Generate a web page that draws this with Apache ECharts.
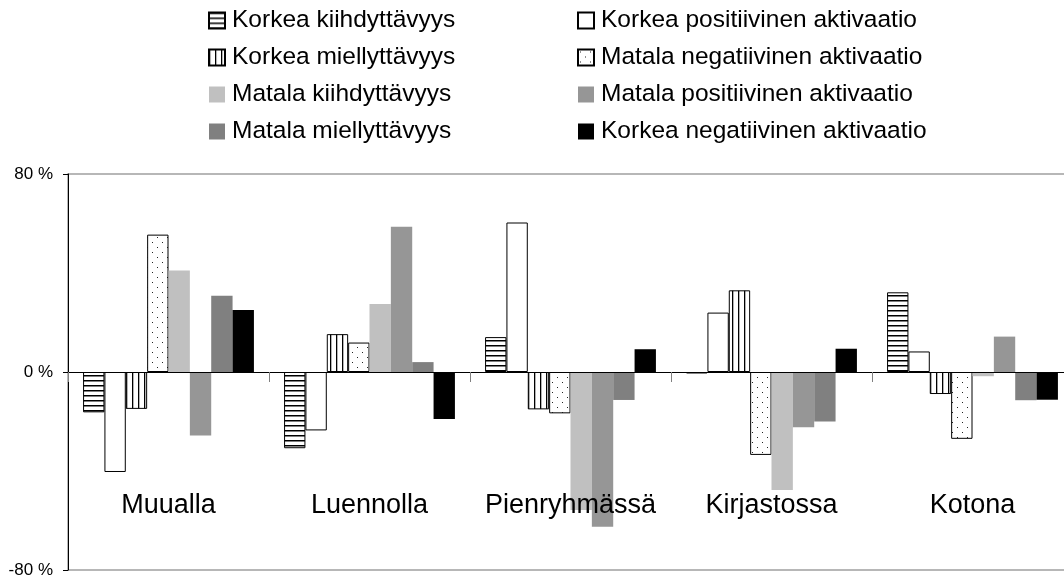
<!DOCTYPE html>
<html>
<head>
<meta charset="utf-8">
<script src="https://cdn.jsdelivr.net/npm/echarts@6/dist/echarts.min.js"></script>
<style>
  html, body { margin: 0; padding: 0; background: #fff; }
  #chart { width: 1064px; height: 579px; }
</style>
</head>
<body>
<div id="chart"></div>
<script>
// categories
const categories = ['Muualla', 'Luennolla', 'Pienryhmässä', 'Kirjastossa', 'Kotona'];

// series values (%)
const korkeaKiihdyttavyys = [-16.3, -30.8, 14.1, -0.6, 32.2];
const korkeaPositiivinen = [-40.4, -23.6, 60.4, 24.0, 8.3];
const korkeaMiellyttavyys = [-14.9, 15.3, -15.1, 33.0, -8.9];
const matalaNegatiivinen = [55.5, 11.9, -16.7, -33.5, -27.0];
const matalaKiihdyttavyys = [41.0, 27.5, -55.8, -47.7, -1.7];
const matalaPositiivinen = [-25.7, 58.7, -62.5, -22.3, 14.3];
const matalaMiellyttavyys = [30.8, 4.0, -11.3, -20.0, -11.4];
const korkeaNegatiivinen = [25.1, -19.0, 9.2, 9.4, -11.2];

// y axis ticks
const yTicks = [-80, 0, 80];

const FONT = "'Liberation Sans', Arial, sans-serif";

function makeTile(w, h, draw) {
    const c = document.createElement('canvas');
    c.width = w;
    c.height = h;
    const ctx = c.getContext('2d');
    ctx.fillStyle = '#fff';
    ctx.fillRect(0, 0, w, h);
    draw(ctx);
    return { image: c, repeat: 'repeat' };
}

const hStripes = makeTile(6, 5, ctx => {
    ctx.fillStyle = '#000';
    ctx.fillRect(0, 0, 6, 1.5);
});
const vStripes = makeTile(6, 6, ctx => {
    ctx.fillStyle = '#000';
    ctx.fillRect(0, 0, 1.3, 6);
});
const dots = makeTile(10, 10, ctx => {
    ctx.fillStyle = '#222';
    ctx.fillRect(2, 2, 1, 1);
    ctx.fillRect(7, 7, 1, 1);
});

function bar(name, data, color, border) {
    return {
        name: name,
        type: 'bar',
        data: data,
        barGap: '0%',
        barCategoryGap: '15%',
        itemStyle: {
            color: color,
            borderColor: border ? '#000' : color,
            borderWidth: border ? 1 : 0
        }
    };
}

const chart = echarts.init(document.getElementById('chart'));

const legendText = { color: '#000', fontSize: 24.5, fontFamily: FONT, lineHeight: 24, padding: [0, 0, 0, 2] };

const option = {
    animation: false,
    backgroundColor: '#fff',
    legend: [
        {
            orient: 'vertical',
            left: 203,
            top: 3,
            itemWidth: 16,
            itemHeight: 16,
            itemGap: 12,
            icon: 'rect',
            selectedMode: false,
            textStyle: legendText,
            data: ['Korkea kiihdyttävyys', 'Korkea miellyttävyys', 'Matala kiihdyttävyys', 'Matala miellyttävyys']
        },
        {
            orient: 'vertical',
            left: 572,
            top: 3,
            itemWidth: 16,
            itemHeight: 16,
            itemGap: 12,
            icon: 'rect',
            selectedMode: false,
            textStyle: legendText,
            data: ['Korkea positiivinen aktivaatio', 'Matala negatiivinen aktivaatio', 'Matala positiivinen aktivaatio', 'Korkea negatiivinen aktivaatio']
        }
    ],
    grid: {
        left: 68,
        right: -9,
        top: 174,
        bottom: 9,
        show: true,
        borderColor: '#a0a0a0',
        borderWidth: 1.5,
        outerBoundsMode: 'none'
    },
    xAxis: [
        {
            // zero line with boundary ticks
            type: 'category',
            data: categories,
            z: 10,
            axisLine: { onZero: true, lineStyle: { color: '#000', width: 1 } },
            axisTick: { show: true, interval: 0, length: 10, lineStyle: { color: '#808080' } },
            axisLabel: { show: false }
        },
        {
            // category names drawn inside the plot
            type: 'category',
            data: categories,
            position: 'bottom',
            z: 10,
            axisLine: { show: false, onZero: false },
            axisTick: { show: false },
            axisLabel: { interval: 0, color: '#000', fontSize: 27, fontFamily: FONT, margin: -78 }
        }
    ],
    yAxis: {
        type: 'value',
        min: yTicks[0],
        max: yTicks[yTicks.length - 1],
        interval: 80,
        z: 10,
        axisLine: { show: true, lineStyle: { color: '#000', width: 1 } },
        axisTick: { show: true, length: 5, lineStyle: { color: '#000' } },
        axisLabel: {
            color: '#000',
            fontSize: 17,
            fontFamily: FONT,
            margin: 15,
            formatter: v => v + ' %'
        },
        splitLine: { show: false }
    },
    series: [
        bar('Korkea kiihdyttävyys', korkeaKiihdyttavyys, hStripes, true),
        bar('Korkea positiivinen aktivaatio', korkeaPositiivinen, '#fff', true),
        bar('Korkea miellyttävyys', korkeaMiellyttavyys, vStripes, true),
        bar('Matala negatiivinen aktivaatio', matalaNegatiivinen, dots, true),
        bar('Matala kiihdyttävyys', matalaKiihdyttavyys, '#c0c0c0', false),
        bar('Matala positiivinen aktivaatio', matalaPositiivinen, '#969696', false),
        bar('Matala miellyttävyys', matalaMiellyttavyys, '#808080', false),
        bar('Korkea negatiivinen aktivaatio', korkeaNegatiivinen, '#000', false)
    ]
};

chart.setOption(option);
</script>
</body>
</html>
